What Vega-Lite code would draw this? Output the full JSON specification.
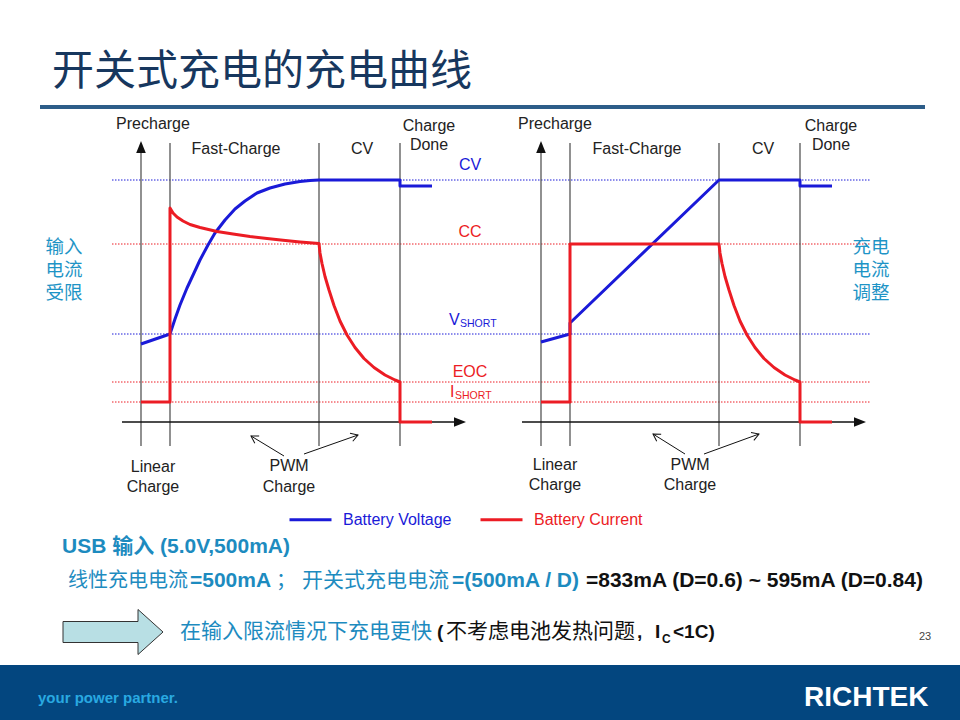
{
  "$schema": "https://vega.github.io/schema/vega-lite/v6.json",
  "width": 960,
  "height": 720,
  "autosize": {"type": "none"},
  "padding": 0,
  "background": "white",
  "config": {"view": {"stroke": null}, "text": {"font": "Liberation Sans"}},
  "datasets": {
    "footer": [{"x": 0, "x2": 960, "y": 665, "y2": 720}],
    "titleRule": [{"x": 40, "x2": 925, "y": 107}],
    "levels": [
      {"lv": "CV", "s": "Battery Voltage", "x": 112, "x2": 870, "y": 180},
      {"lv": "CC", "s": "Battery Current", "x": 112, "x2": 870, "y": 244},
      {"lv": "VSHORT", "s": "Battery Voltage", "x": 112, "x2": 870, "y": 334},
      {"lv": "EOC", "s": "Battery Current", "x": 112, "x2": 870, "y": 382},
      {"lv": "ISHORT", "s": "Battery Current", "x": 112, "x2": 870, "y": 402}
    ],
    "phaseLines": [
      {"x": 141, "y": 152, "y2": 446}, {"x": 170, "y": 143, "y2": 446},
      {"x": 319, "y": 143, "y2": 446}, {"x": 400, "y": 143, "y2": 446},
      {"x": 541, "y": 152, "y2": 446}, {"x": 570, "y": 143, "y2": 446},
      {"x": 719, "y": 143, "y2": 446}, {"x": 800, "y": 143, "y2": 446}
    ],
    "timeAxes": [{"x": 122, "x2": 456, "y": 422}, {"x": 522, "x2": 856, "y": 422}],
    "upHeads": [{"x": 141, "y": 141}, {"x": 541, "y": 141}],
    "rightHeads": [{"x": 466, "y": 422}, {"x": 866, "y": 422}],
    "pwm": [
      {"bx": 284, "by": 456, "x": 251, "y": 436},
      {"bx": 304, "by": 454, "x": 358, "y": 435},
      {"bx": 685, "by": 454, "x": 653, "y": 434},
      {"bx": 704, "by": 454, "x": 759, "y": 434}
    ],
    "curves": [
      {"panel": "L", "s": "Battery Voltage", "i": 1, "x": 141, "y": 344},
      {"panel": "L", "s": "Battery Voltage", "i": 2, "x": 170, "y": 334},
      {"panel": "L", "s": "Battery Voltage", "i": 3, "x": 175, "y": 319},
      {"panel": "L", "s": "Battery Voltage", "i": 4, "x": 180, "y": 305},
      {"panel": "L", "s": "Battery Voltage", "i": 5, "x": 187, "y": 288},
      {"panel": "L", "s": "Battery Voltage", "i": 6, "x": 194, "y": 273},
      {"panel": "L", "s": "Battery Voltage", "i": 7, "x": 200, "y": 260},
      {"panel": "L", "s": "Battery Voltage", "i": 8, "x": 208, "y": 245},
      {"panel": "L", "s": "Battery Voltage", "i": 9, "x": 215, "y": 233},
      {"panel": "L", "s": "Battery Voltage", "i": 10, "x": 225, "y": 220},
      {"panel": "L", "s": "Battery Voltage", "i": 11, "x": 235, "y": 209},
      {"panel": "L", "s": "Battery Voltage", "i": 12, "x": 245, "y": 201},
      {"panel": "L", "s": "Battery Voltage", "i": 13, "x": 257, "y": 193},
      {"panel": "L", "s": "Battery Voltage", "i": 14, "x": 270, "y": 188},
      {"panel": "L", "s": "Battery Voltage", "i": 15, "x": 285, "y": 184},
      {"panel": "L", "s": "Battery Voltage", "i": 16, "x": 300, "y": 181.5},
      {"panel": "L", "s": "Battery Voltage", "i": 17, "x": 310, "y": 180.5},
      {"panel": "L", "s": "Battery Voltage", "i": 18, "x": 319, "y": 180},
      {"panel": "L", "s": "Battery Voltage", "i": 19, "x": 400, "y": 180},
      {"panel": "L", "s": "Battery Voltage", "i": 20, "x": 400, "y": 186},
      {"panel": "L", "s": "Battery Voltage", "i": 21, "x": 432, "y": 186},
      {"panel": "L", "s": "Battery Current", "i": 1, "x": 141, "y": 402},
      {"panel": "L", "s": "Battery Current", "i": 2, "x": 170, "y": 402},
      {"panel": "L", "s": "Battery Current", "i": 3, "x": 170, "y": 208},
      {"panel": "L", "s": "Battery Current", "i": 4, "x": 173, "y": 213},
      {"panel": "L", "s": "Battery Current", "i": 5, "x": 177, "y": 217},
      {"panel": "L", "s": "Battery Current", "i": 6, "x": 183, "y": 221},
      {"panel": "L", "s": "Battery Current", "i": 7, "x": 190, "y": 224.5},
      {"panel": "L", "s": "Battery Current", "i": 8, "x": 200, "y": 227.5},
      {"panel": "L", "s": "Battery Current", "i": 9, "x": 217, "y": 231.5},
      {"panel": "L", "s": "Battery Current", "i": 10, "x": 233, "y": 234},
      {"panel": "L", "s": "Battery Current", "i": 11, "x": 250, "y": 236.5},
      {"panel": "L", "s": "Battery Current", "i": 12, "x": 267, "y": 238.5},
      {"panel": "L", "s": "Battery Current", "i": 13, "x": 283, "y": 240.3},
      {"panel": "L", "s": "Battery Current", "i": 14, "x": 300, "y": 242},
      {"panel": "L", "s": "Battery Current", "i": 15, "x": 319, "y": 243.5},
      {"panel": "L", "s": "Battery Current", "i": 16, "x": 320, "y": 253},
      {"panel": "L", "s": "Battery Current", "i": 17, "x": 322, "y": 263.5},
      {"panel": "L", "s": "Battery Current", "i": 18, "x": 325, "y": 276.5},
      {"panel": "L", "s": "Battery Current", "i": 19, "x": 329, "y": 290},
      {"panel": "L", "s": "Battery Current", "i": 20, "x": 334, "y": 305.5},
      {"panel": "L", "s": "Battery Current", "i": 21, "x": 340, "y": 321},
      {"panel": "L", "s": "Battery Current", "i": 22, "x": 347, "y": 335},
      {"panel": "L", "s": "Battery Current", "i": 23, "x": 355, "y": 347.5},
      {"panel": "L", "s": "Battery Current", "i": 24, "x": 364, "y": 358.5},
      {"panel": "L", "s": "Battery Current", "i": 25, "x": 374, "y": 367.5},
      {"panel": "L", "s": "Battery Current", "i": 26, "x": 385, "y": 375},
      {"panel": "L", "s": "Battery Current", "i": 27, "x": 395, "y": 380},
      {"panel": "L", "s": "Battery Current", "i": 28, "x": 400, "y": 382},
      {"panel": "L", "s": "Battery Current", "i": 29, "x": 400, "y": 422},
      {"panel": "L", "s": "Battery Current", "i": 30, "x": 432, "y": 422},
      {"panel": "R", "s": "Battery Voltage", "i": 1, "x": 541, "y": 342},
      {"panel": "R", "s": "Battery Voltage", "i": 2, "x": 570, "y": 334},
      {"panel": "R", "s": "Battery Voltage", "i": 3, "x": 570, "y": 323},
      {"panel": "R", "s": "Battery Voltage", "i": 4, "x": 719, "y": 180},
      {"panel": "R", "s": "Battery Voltage", "i": 5, "x": 800, "y": 180},
      {"panel": "R", "s": "Battery Voltage", "i": 6, "x": 800, "y": 186},
      {"panel": "R", "s": "Battery Voltage", "i": 7, "x": 832, "y": 186},
      {"panel": "R", "s": "Battery Current", "i": 1, "x": 541, "y": 402},
      {"panel": "R", "s": "Battery Current", "i": 2, "x": 570, "y": 402},
      {"panel": "R", "s": "Battery Current", "i": 3, "x": 570, "y": 244},
      {"panel": "R", "s": "Battery Current", "i": 4, "x": 719, "y": 244},
      {"panel": "R", "s": "Battery Current", "i": 5, "x": 720, "y": 253},
      {"panel": "R", "s": "Battery Current", "i": 6, "x": 722, "y": 263.5},
      {"panel": "R", "s": "Battery Current", "i": 7, "x": 725, "y": 276.5},
      {"panel": "R", "s": "Battery Current", "i": 8, "x": 729, "y": 290},
      {"panel": "R", "s": "Battery Current", "i": 9, "x": 734, "y": 305.5},
      {"panel": "R", "s": "Battery Current", "i": 10, "x": 740, "y": 321},
      {"panel": "R", "s": "Battery Current", "i": 11, "x": 747, "y": 335},
      {"panel": "R", "s": "Battery Current", "i": 12, "x": 755, "y": 347.5},
      {"panel": "R", "s": "Battery Current", "i": 13, "x": 764, "y": 358.5},
      {"panel": "R", "s": "Battery Current", "i": 14, "x": 774, "y": 367.5},
      {"panel": "R", "s": "Battery Current", "i": 15, "x": 785, "y": 375},
      {"panel": "R", "s": "Battery Current", "i": 16, "x": 795, "y": 380},
      {"panel": "R", "s": "Battery Current", "i": 17, "x": 800, "y": 382},
      {"panel": "R", "s": "Battery Current", "i": 18, "x": 800, "y": 422},
      {"panel": "R", "s": "Battery Current", "i": 19, "x": 832, "y": 422}
    ],
    "blockArrow": [{"x": 113, "y": 632}],
    "titleText": [{"t": "开关式充电的充电曲线", "x": 52, "y": 85}],
    "phaseText": [
      {"t": "Precharge", "x": 153, "y": 124}, {"t": "Fast-Charge", "x": 236, "y": 149},
      {"t": "CV", "x": 362, "y": 149}, {"t": "Charge", "x": 429, "y": 126},
      {"t": "Done", "x": 429, "y": 145}, {"t": "Linear", "x": 153, "y": 467},
      {"t": "Charge", "x": 153, "y": 487}, {"t": "PWM", "x": 289, "y": 466},
      {"t": "Charge", "x": 289, "y": 487},
      {"t": "Precharge", "x": 555, "y": 124}, {"t": "Fast-Charge", "x": 637, "y": 149},
      {"t": "CV", "x": 763, "y": 149}, {"t": "Charge", "x": 831, "y": 126},
      {"t": "Done", "x": 831, "y": 145}, {"t": "Linear", "x": 555, "y": 465},
      {"t": "Charge", "x": 555, "y": 485}, {"t": "PWM", "x": 690, "y": 465},
      {"t": "Charge", "x": 690, "y": 485}
    ],
    "levelCenter": [
      {"t": "CV", "s": "Battery Voltage", "x": 470, "y": 165},
      {"t": "CC", "s": "Battery Current", "x": 470, "y": 232},
      {"t": "EOC", "s": "Battery Current", "x": 470, "y": 372}
    ],
    "levelLeft": [
      {"t": "V", "s": "Battery Voltage", "x": 449, "y": 320},
      {"t": "I", "s": "Battery Current", "x": 450, "y": 392}
    ],
    "levelSub": [
      {"t": "SHORT", "s": "Battery Voltage", "x": 460, "y": 324},
      {"t": "SHORT", "s": "Battery Current", "x": 455, "y": 396}
    ],
    "sideText": [
      {"t": "输入\n电流\n受限", "x": 64, "y": 247},
      {"t": "充电\n电流\n调整", "x": 871, "y": 247}
    ],
    "tealBold": [
      {"t": "USB 输入 (5.0V,500mA)", "x": 62, "y": 553},
      {"t": "=500mA", "x": 190, "y": 587},
      {"t": "=(500mA / D)", "x": 452, "y": 587}
    ],
    "tealReg": [
      {"t": "线性充电电流", "x": 68, "y": 587},
      {"t": "；", "x": 276, "y": 587}
    ],
    "tealReg21": [
      {"t": "开关式充电电流", "x": 302, "y": 587},
      {"t": "在输入限流情况下充电更快", "x": 180, "y": 638}
    ],
    "blackBold": [
      {"t": "=833mA (D=0.6) ~ 595mA (D=0.84)", "x": 586, "y": 587}
    ],
    "blackBold2": [
      {"t": "(", "x": 437, "y": 638},
      {"t": ",", "x": 637, "y": 638},
      {"t": "I", "x": 655, "y": 638},
      {"t": "<1C)", "x": 673, "y": 638}
    ],
    "blackReg": [{"t": "不考虑电池发热问题", "x": 446, "y": 638}],
    "blackSub": [{"t": "C", "x": 662, "y": 643}],
    "pageNo": [{"t": "23", "x": 925, "y": 637}],
    "slogan": [{"t": "your power partner.", "x": 38, "y": 703}],
    "logo": [{"t": "RICHTEK", "x": 804, "y": 706}]
  },
  "encoding": {
    "x": {"field": "x", "type": "quantitative", "scale": {"domain": [0, 960], "nice": false, "zero": false}, "axis": null},
    "y": {"field": "y", "type": "quantitative", "scale": {"domain": [0, 720], "nice": false, "zero": false, "reverse": true}, "axis": null}
  },
  "layer": [
    {
      "data": {"name": "footer"},
      "mark": {"type": "rect", "color": "#03467f"},
      "encoding": {"x2": {"field": "x2"}, "y2": {"field": "y2"}}
    },
    {
      "data": {"name": "titleRule"},
      "mark": {"type": "rule", "color": "#2d5d89", "strokeWidth": 4},
      "encoding": {"x2": {"field": "x2"}}
    },
    {
      "data": {"name": "levels"},
      "mark": {"type": "rule", "strokeWidth": 1, "strokeDash": [1.5, 1.5]},
      "encoding": {
        "x2": {"field": "x2"},
        "color": {"field": "s", "type": "nominal"}
      }
    },
    {
      "data": {"name": "phaseLines"},
      "mark": {"type": "rule", "color": "#555555", "strokeWidth": 1.3},
      "encoding": {"y2": {"field": "y2"}}
    },
    {
      "data": {"name": "timeAxes"},
      "mark": {"type": "rule", "color": "#111111", "strokeWidth": 1.5},
      "encoding": {"x2": {"field": "x2"}}
    },
    {
      "data": {"name": "upHeads"},
      "mark": {"type": "point", "shape": "M 0 0 L 0.4 1 L -0.4 1 Z", "filled": true, "color": "#111111", "opacity": 1, "size": 576}
    },
    {
      "data": {"name": "rightHeads"},
      "mark": {"type": "point", "shape": "M 0 0 L -1 -0.4 L -1 0.4 Z", "filled": true, "color": "#111111", "opacity": 1, "size": 576}
    },
    {
      "data": {"name": "pwm"},
      "mark": {"type": "rule", "color": "#111111", "strokeWidth": 1},
      "encoding": {
        "x": {"field": "bx", "type": "quantitative"},
        "y": {"field": "by", "type": "quantitative"},
        "x2": {"field": "x"},
        "y2": {"field": "y"}
      }
    },
    {
      "data": {"name": "pwm"},
      "transform": [{"calculate": "atan2(datum.y - datum.by, datum.x - datum.bx) * 180 / PI", "as": "ang"}],
      "mark": {"type": "point", "shape": "M -1 -0.6 L 0 0 L -1 0.6", "filled": false, "color": "#111111", "opacity": 1, "strokeWidth": 1, "size": 196},
      "encoding": {"angle": {"field": "ang", "type": "quantitative", "scale": null}}
    },
    {
      "data": {"name": "curves"},
      "mark": {"type": "line", "strokeWidth": 3, "strokeJoin": "round", "strokeCap": "butt"},
      "encoding": {
        "color": {
          "field": "s",
          "type": "nominal",
          "scale": {"domain": ["Battery Voltage", "Battery Current"], "range": ["#1a1ad8", "#ec1c24"]},
          "legend": {
            "orient": "none",
            "legendX": 288,
            "legendY": 497,
            "direction": "horizontal",
            "title": null,
            "symbolType": "stroke",
            "symbolSize": 1764,
            "symbolStrokeWidth": 3,
            "labelFont": "Liberation Sans",
            "labelFontSize": 16,
            "labelOffset": 10,
            "columnPadding": 22,
            "padding": 0,
            "labelLimit": 300,
            "encode": {
              "labels": {"update": {"fill": {"signal": "datum.value === 'Battery Voltage' ? '#1a1ad8' : '#ec1c24'"}}}
            }
          }
        },
        "detail": {"field": "panel"},
        "order": {"field": "i", "type": "quantitative"}
      }
    },
    {
      "data": {"name": "blockArrow"},
      "mark": {"type": "point", "shape": "M -1 -0.21 L 0.5 -0.21 L 0.5 -0.45 L 1 0 L 0.5 0.45 L 0.5 0.21 L -1 0.21 Z", "filled": true, "fill": "#b8dfe4", "stroke": "#333333", "strokeWidth": 1, "opacity": 1, "size": 10000}
    },
    {
      "data": {"name": "titleText"},
      "mark": {"type": "text", "align": "left", "baseline": "alphabetic", "font": "Noto Sans CJK SC", "fontSize": 42, "color": "#17375e"},
      "encoding": {"text": {"field": "t"}}
    },
    {
      "data": {"name": "phaseText"},
      "mark": {"type": "text", "align": "center", "baseline": "middle", "fontSize": 16, "color": "#222222"},
      "encoding": {"text": {"field": "t"}}
    },
    {
      "data": {"name": "levelCenter"},
      "mark": {"type": "text", "align": "center", "baseline": "middle", "fontSize": 16},
      "encoding": {"text": {"field": "t"}, "color": {"field": "s", "type": "nominal"}}
    },
    {
      "data": {"name": "levelLeft"},
      "mark": {"type": "text", "align": "left", "baseline": "middle", "fontSize": 16},
      "encoding": {"text": {"field": "t"}, "color": {"field": "s", "type": "nominal"}}
    },
    {
      "data": {"name": "levelSub"},
      "mark": {"type": "text", "align": "left", "baseline": "middle", "fontSize": 10.5},
      "encoding": {"text": {"field": "t"}, "color": {"field": "s", "type": "nominal"}}
    },
    {
      "data": {"name": "sideText"},
      "mark": {"type": "text", "align": "center", "baseline": "middle", "lineBreak": "\n", "lineHeight": 23, "font": "Liberation Sans, Noto Sans CJK SC", "fontSize": 18.5, "color": "#1e94c6"},
      "encoding": {"text": {"field": "t"}}
    },
    {
      "data": {"name": "tealBold"},
      "mark": {"type": "text", "align": "left", "baseline": "alphabetic", "font": "Liberation Sans, Noto Sans CJK SC", "fontWeight": "bold", "fontSize": 21, "color": "#1d8bbf"},
      "encoding": {"text": {"field": "t"}}
    },
    {
      "data": {"name": "tealReg"},
      "mark": {"type": "text", "align": "left", "baseline": "alphabetic", "font": "Noto Sans CJK SC", "fontSize": 20, "color": "#1d8bbf"},
      "encoding": {"text": {"field": "t"}}
    },
    {
      "data": {"name": "tealReg21"},
      "mark": {"type": "text", "align": "left", "baseline": "alphabetic", "font": "Noto Sans CJK SC", "fontSize": 21, "color": "#1d8bbf"},
      "encoding": {"text": {"field": "t"}}
    },
    {
      "data": {"name": "blackBold"},
      "mark": {"type": "text", "align": "left", "baseline": "alphabetic", "fontWeight": "bold", "fontSize": 21, "color": "#111111"},
      "encoding": {"text": {"field": "t"}}
    },
    {
      "data": {"name": "blackBold2"},
      "mark": {"type": "text", "align": "left", "baseline": "alphabetic", "fontWeight": "bold", "fontSize": 19, "color": "#111111"},
      "encoding": {"text": {"field": "t"}}
    },
    {
      "data": {"name": "blackReg"},
      "mark": {"type": "text", "align": "left", "baseline": "alphabetic", "font": "Noto Sans CJK SC", "fontSize": 21, "color": "#111111"},
      "encoding": {"text": {"field": "t"}}
    },
    {
      "data": {"name": "blackSub"},
      "mark": {"type": "text", "align": "left", "baseline": "alphabetic", "fontWeight": "bold", "fontSize": 12, "color": "#111111"},
      "encoding": {"text": {"field": "t"}}
    },
    {
      "data": {"name": "pageNo"},
      "mark": {"type": "text", "align": "center", "baseline": "middle", "fontSize": 11, "color": "#444444"},
      "encoding": {"text": {"field": "t"}}
    },
    {
      "data": {"name": "slogan"},
      "mark": {"type": "text", "align": "left", "baseline": "alphabetic", "font": "Liberation Sans Narrow, Liberation Sans", "fontWeight": "bold", "fontSize": 15, "color": "#29a9e1"},
      "encoding": {"text": {"field": "t"}}
    },
    {
      "data": {"name": "logo"},
      "mark": {"type": "text", "align": "left", "baseline": "alphabetic", "fontWeight": "bold", "fontSize": 28, "color": "#ffffff"},
      "encoding": {"text": {"field": "t"}}
    }
  ]
}
